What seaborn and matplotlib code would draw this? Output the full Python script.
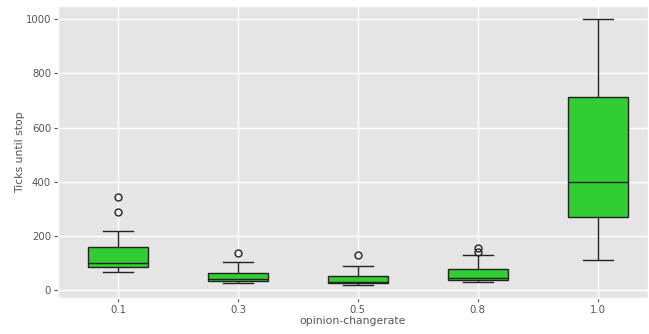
import matplotlib
matplotlib.use("Agg")
import matplotlib.pyplot as plt
import seaborn as sns
import pandas as pd

categories = ["0.1", "0.3", "0.5", "0.8", "1.0"]
ticks_01 = [65, 72, 80, 85, 90, 95, 98, 120, 140, 158, 217, 289, 342]
ticks_03 = [25, 28, 31, 33, 35, 37, 39, 45, 55, 64, 80, 102, 136]
ticks_05 = [19, 21, 23, 25, 26, 27, 28, 33, 42, 52, 70, 90, 129]
ticks_08 = [28, 32, 35, 38, 40, 42, 45, 55, 66, 77, 129, 141, 153]
ticks_10 = [111, 180, 230, 268, 320, 360, 400, 480, 600, 713, 800, 900, 1000]

series = [ticks_01, ticks_03, ticks_05, ticks_08, ticks_10]
rows = []
for cat, vals in zip(categories, series):
    for v in vals:
        rows.append({"opinion-changerate": cat, "Ticks until stop": v})
df = pd.DataFrame(rows)

plt.style.use("ggplot")
fig = plt.figure(figsize=(6.49, 3.34), dpi=100)
ax = fig.add_axes([58/649, 1 - 298/334, 590/649, 292/334])

sns.boxplot(data=df, x="opinion-changerate", y="Ticks until stop", order=categories,
            color="#32CD32", width=0.5, linewidth=1.0, saturation=1,
            linecolor="#222222",
            flierprops=dict(marker="o", markerfacecolor="none", markeredgecolor="#222222",
                            markersize=5, markeredgewidth=1.0),
            ax=ax)

ax.set_xlim(-0.5, 4.42)
ax.set_ylim(-30, 1049)
ax.set_yticks([0, 200, 400, 600, 800, 1000])
ax.tick_params(axis="both", labelsize=7.3, colors="#555555", labelcolor="#555555",
               length=3, pad=2)
ax.set_xlabel("opinion-changerate", fontsize=7.8, color="#555555")
ax.set_ylabel("Ticks until stop", fontsize=7.8, color="#555555")
ax.xaxis.set_label_coords(0.5, (298 - 316) / 292)
ax.yaxis.set_label_coords((25 - 58) / 590, 0.5)
ax.grid(True, color="white", linewidth=1)
ax.set_axisbelow(True)

fig.savefig("out.png", dpi=100)
